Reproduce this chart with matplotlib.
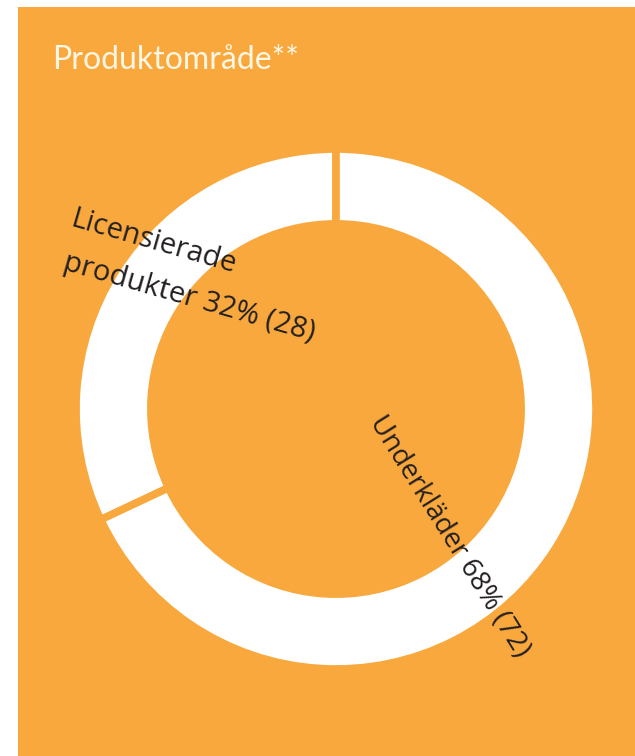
import matplotlib
matplotlib.use("Agg")
import matplotlib.pyplot as plt

# Data
categories = ["Licensierade produkter", "Underkläder"]
shares = [32, 68]
prev_shares = [28, 72]
title = "Produktområde**"

ORANGE = "#F9A83E"
W, H = 635, 756
fig = plt.figure(figsize=(W / 100, H / 100), dpi=100, facecolor="white")

# orange panel as background axes
bg = fig.add_axes([18 / W, 0, 1 - 18 / W, (H - 7) / H], zorder=0)
bg.set_facecolor(ORANGE)
bg.set_xticks([]); bg.set_yticks([])
for s in bg.spines.values():
    s.set_visible(False)

cx, cy, r = 336, 409, 260
ax = fig.add_axes([(cx - r) / W, (H - cy - r) / H, 2 * r / W, 2 * r / H], zorder=1)
ax.set_facecolor("none")
ax.pie(shares, startangle=90, counterclock=True, radius=1.0,
       colors=["white", "white"],
       wedgeprops=dict(width=0.288, edgecolor=ORANGE, linewidth=5.5))
ax.set_xlim(-1, 1)
ax.set_ylim(-1, 1)
ax.set_aspect("equal")
ax.axis("off")

def px(x, y):
    return x / W, 1 - y / H

fig.text(*px(52, 60), title, color="#FFF6E3", fontsize=23, family="Lato",
         ha="left", va="center", zorder=5)

lab_font = dict(family="Open Sans", color="#231F20", zorder=5)
fig.text(*px(153, 242), "Licensierade", rotation=-16, rotation_mode="anchor",
         ha="center", va="center", fontsize=21, **lab_font)
fig.text(*px(189, 298), f"produkter {shares[0]}% ({prev_shares[0]})",
         rotation=-16, rotation_mode="anchor", ha="center", va="center",
         fontsize=21, **lab_font)
fig.text(*px(449, 537), f"{categories[1]} {shares[1]}% ({prev_shares[1]})",
         rotation=-58, rotation_mode="anchor", ha="center", va="center",
         fontsize=20, **lab_font)

fig.savefig("out.png", dpi=100, facecolor="white")
